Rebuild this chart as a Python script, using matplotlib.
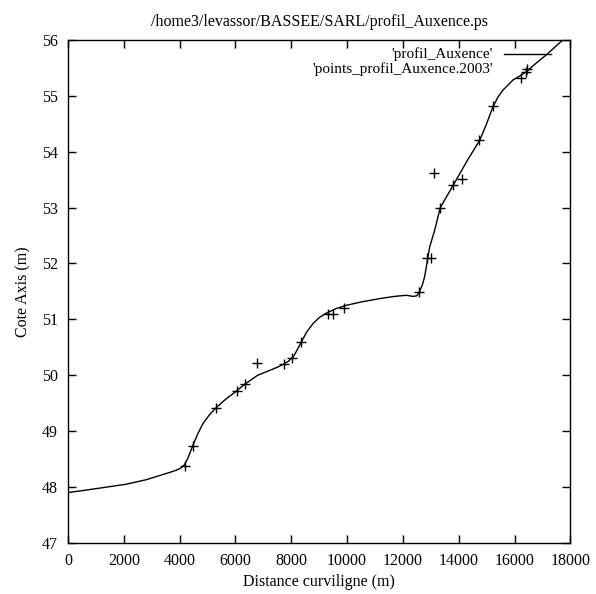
import matplotlib
matplotlib.use("Agg")
import matplotlib.pyplot as plt

# Profile curve 'profil_Auxence'
curve_x = [0, 1000, 2086, 2800, 3638, 3878, 4050, 4176, 4300, 4473, 4650, 4832, 5050,
           5312, 5650, 5968, 6337, 6800, 7200, 7580, 7724, 7900, 8100, 8358, 8550,
           8774, 9000, 9254, 9600, 9971, 10500, 11165, 11700, 12122, 12360, 12500,
           12598, 12700, 12778, 12860, 12957, 13136, 13341, 13792, 14330, 14749,
           15000, 15226, 15400, 15584, 15943, 16180, 16423, 16839, 17137, 17735, 18000]
curve_y = [47.90, 47.97, 48.05, 48.13, 48.26, 48.30, 48.34, 48.40, 48.52, 48.74, 48.95, 49.13, 49.28,
           49.42, 49.57, 49.69, 49.84, 50.00, 50.08, 50.16, 50.20, 50.25, 50.35, 50.59, 50.77,
           50.92, 51.03, 51.11, 51.19, 51.25, 51.31, 51.37, 51.41, 51.43, 51.41, 51.42,
           51.50, 51.62, 51.76, 52.00, 52.29, 52.59, 53.00, 53.39, 53.86, 54.20,
           54.50, 54.80, 54.97, 55.10, 55.28, 55.35, 55.43, 55.61, 55.73, 56.00, 56.12]

# Measured points 'points_profil_Auxence.2003'
pts_x = [4201, 4473, 5287, 6039, 6337, 6767, 7724, 8022, 8358, 9312, 9491, 9885,
         12573, 12860, 13018, 13100, 13341, 13792, 14129, 14713, 15226, 16244, 16423]
pts_y = [48.37, 48.73, 49.41, 49.72, 49.85, 50.21, 50.20, 50.30, 50.59, 51.10, 51.10, 51.20,
         51.49, 52.10, 52.10, 53.61, 53.00, 53.41, 53.51, 54.20, 54.81, 55.31, 55.43]

x_ticks = [0, 2000, 4000, 6000, 8000, 10000, 12000, 14000, 16000, 18000]
y_ticks = [47, 48, 49, 50, 51, 52, 53, 54, 55, 56]

title = "/home3/levassor/BASSEE/SARL/profil_Auxence.ps"
xlabel = "Distance curviligne (m)"
ylabel = "Cote Axis (m)"
label_curve = "'profil_Auxence'"
label_pts = "'points_profil_Auxence.2003'"

plt.rcParams['font.family'] = ['Liberation Serif', 'DejaVu Serif']
plt.rcParams['font.size'] = 11.5

fig = plt.figure(figsize=(5.96, 5.94), dpi=100)
ax = fig.add_axes([0.114, 0.086, 0.843, 0.847])

ax.plot(curve_x, curve_y, color='black', lw=1.0)
ax.plot(pts_x, pts_y, linestyle='none', marker='+', color='black', ms=6.5, mew=1.0)

ax.set_xlim(0, 18000)
ax.set_ylim(47, 56)
ax.set_xticks(x_ticks)
ax.set_yticks(y_ticks)
ax.tick_params(direction='in', top=True, right=True, length=6, width=1, pad=7)
for s in ax.spines.values():
    s.set_linewidth(1.0)

ax.set_title(title, fontsize=11.5, pad=10)
ax.set_xlabel(xlabel, labelpad=4)
ax.set_ylabel(ylabel, labelpad=8)

# gnuplot-style key: right-aligned text with sample on the right
tr = ax.transAxes
ax.text(0.845, 0.971, label_curve, transform=tr, ha='right', va='center', fontsize=11)
ax.plot([0.867, 0.961], [0.971, 0.971], transform=tr, color='black', lw=1.0)
ax.text(0.845, 0.941, label_pts, transform=tr, ha='right', va='center', fontsize=11)
ax.plot([0.914], [0.941], transform=tr, marker='+', color='black', ms=6.5, mew=1.0, linestyle='none')

fig.savefig("out.png", dpi=100)
